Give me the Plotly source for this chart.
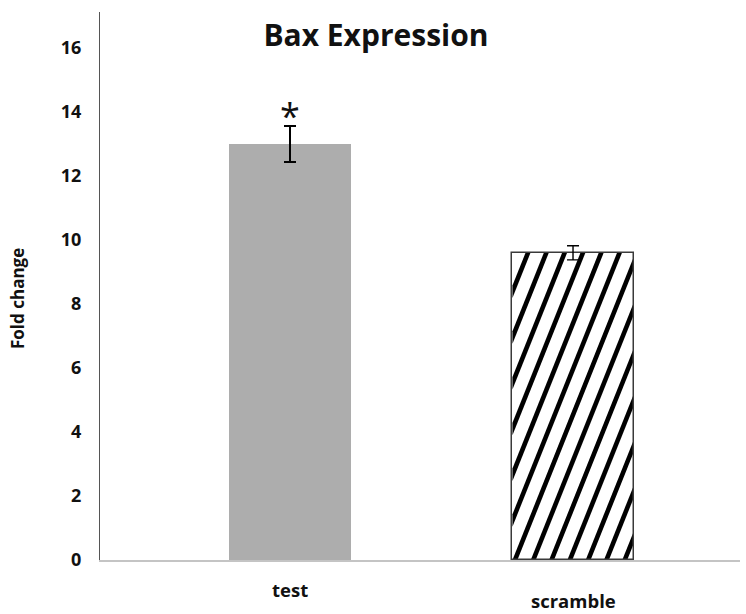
import math
import plotly.graph_objects as go

# Data
categories = ["test", "scramble"]
fold_change = [13.0, 9.6]
error = [0.56, 0.22]
significance = ["*", ""]

# Figure geometry (pixels)
W, H = 746, 614
M_L, M_R, M_T, M_B = 100, 6, 12, 54
PW, PH = W - M_L - M_R, H - M_T - M_B

Y_MAX = 17.125
X_RANGE = [-0.6714, 1.590]
BAR_W = 0.428
xpos = list(range(len(categories)))
FONT = "Open Sans"

fig = go.Figure()

fig.add_trace(go.Bar(
    x=[xpos[0]], y=[fold_change[0]], width=BAR_W,
    marker=dict(color="#adadad", line=dict(width=0)),
    error_y=dict(type="data", array=[error[0]], color="black", thickness=1.4, width=6),
    showlegend=False,
))
fig.add_trace(go.Bar(
    x=[xpos[1]], y=[fold_change[1]], width=BAR_W,
    marker=dict(color="rgba(0,0,0,0)", line=dict(width=1.5, color="#3a3a3a")),
    error_y=dict(type="data", array=[error[1]], color="black", thickness=1.4, width=6),
    showlegend=False,
))

# Diagonal hatch stripes for the scramble bar, clipped to the bar rectangle
px_per_x = PW / (X_RANGE[1] - X_RANGE[0])
px_per_y = PH / Y_MAX


def clip_x(poly, lo, hi):
    def clip(pts, keep, inter):
        out = []
        n = len(pts)
        for i in range(n):
            a, b = pts[i], pts[(i + 1) % n]
            ka, kb = keep(a), keep(b)
            if ka:
                out.append(a)
            if ka != kb:
                out.append(inter(a, b))
        return out

    def at_x(xv):
        def f(a, b):
            t = (xv - a[0]) / (b[0] - a[0])
            return (xv, a[1] + t * (b[1] - a[1]))
        return f

    pts = clip(poly, lambda p: p[0] >= lo, at_x(lo))
    if pts:
        pts = clip(pts, lambda p: p[0] <= hi, at_x(hi))
    return pts


bx = xpos[1]
xl = (bx - BAR_W / 2 - X_RANGE[0]) * px_per_x
xr = (bx + BAR_W / 2 - X_RANGE[0]) * px_per_x
hp = fold_change[1] * px_per_y
slope = 2.5
period = 18.3
thick = 4.6 / math.sin(math.atan(slope))

c = xl - math.ceil((hp / slope) / period) * period
while c < xr:
    poly = [(c, 0), (c + thick, 0), (c + thick + hp / slope, hp), (c + hp / slope, hp)]
    pts = clip_x(poly, xl, xr)
    if len(pts) >= 3:
        path = "M " + " L ".join(
            f"{X_RANGE[0] + px / px_per_x:.5f},{py / px_per_y:.5f}" for px, py in pts
        ) + " Z"
        fig.add_shape(type="path", path=path, xref="x", yref="y",
                      fillcolor="black", line=dict(width=0), layer="between")
    c += period

# Significance marker
for x, v, e, s in zip(xpos, fold_change, error, significance):
    if s:
        fig.add_annotation(x=x, y=v + e, text=s, showarrow=False, yanchor="bottom",
                           yshift=-16,
                           font=dict(size=36, color="#111", family=FONT))

# Category labels
label_shift = [0, -11]
for x, name, dy in zip(xpos, categories, label_shift):
    fig.add_annotation(x=x, y=0, xref="x", yref="y", text=name, showarrow=False,
                       yanchor="middle", yshift=-29 + dy,
                       font=dict(size=18.5, color="#111", family=FONT, weight="bold"))

# Axis title
fig.add_annotation(xref="paper", yref="paper", x=(18 - M_L) / PW, y=(H - M_B - 299) / PH,
                   text="Fold change", textangle=-90, showarrow=False,
                   xanchor="center", yanchor="middle",
                   font=dict(size=17, color="#111", family=FONT, weight="bold"))

fig.update_layout(
    width=W, height=H,
    margin=dict(l=M_L, r=M_R, t=M_T, b=M_B),
    paper_bgcolor="white", plot_bgcolor="white",
    title=dict(text="Bax Expression", x=376 / W, xanchor="center",
               y=1 - 35 / H, yanchor="middle",
               font=dict(size=30, color="#111", family=FONT, weight="bold")),
    bargap=0,
    xaxis=dict(range=X_RANGE, showticklabels=False, showgrid=False, zeroline=False,
               showline=True, linecolor="#c4c4c4", linewidth=2, ticks=""),
    yaxis=dict(range=[0, Y_MAX], tickvals=list(range(0, 17, 2)), showgrid=False,
               zeroline=False, showline=True, linecolor="#555", linewidth=1.2,
               ticks="", ticklabelstandoff=14,
               tickfont=dict(size=18, color="#111", family=FONT, weight="bold")),
)

fig.write_html("out.html")
